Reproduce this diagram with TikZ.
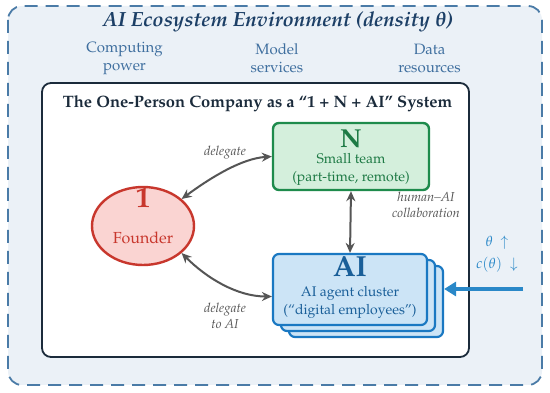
\documentclass[tikz,border=0pt]{standalone}
\usepackage[T1]{fontenc}
\usepackage{mathpazo}
\usepackage{tikz}
\usetikzlibrary{arrows.meta,calc,shapes.geometric}
\definecolor{envfill}{HTML}{EBF1F7}
\definecolor{envdash}{HTML}{4A7BA7}
\definecolor{envtitle}{HTML}{1C3F66}
\definecolor{envlabel}{HTML}{3F6F9F}
\definecolor{innerborder}{HTML}{1B2B3B}
\definecolor{fndfill}{HTML}{FAD4D2}
\definecolor{fndline}{HTML}{C8372D}
\definecolor{nfill}{HTML}{D4EFDC}
\definecolor{nline}{HTML}{1E8B4C}
\definecolor{ntext}{HTML}{1E7A45}
\definecolor{aifill}{HTML}{CCE4F6}
\definecolor{ailine}{HTML}{1A78C2}
\definecolor{aitext}{HTML}{1A5F99}
\definecolor{arrgray}{HTML}{555555}
\definecolor{thetablue}{HTML}{2A88C8}
\tikzset{
  envbox/.style={draw=envdash, fill=envfill, line width=1.8pt, rounded corners=14pt, dash pattern=on 13pt off 8pt},
  innerbox/.style={draw=innerborder, fill=white, line width=1.8pt, rounded corners=9pt},
  envlab/.style={text=envlabel, font=\fontsize{15}{18}\selectfont, align=center},
  fndshape/.style={ellipse, draw=fndline, fill=fndfill, line width=2.4pt, minimum width=102pt, minimum height=78pt},
  nshape/.style={draw=nline, fill=nfill, line width=2.4pt, rounded corners=6pt, minimum width=156pt, minimum height=67pt},
  aishape/.style={draw=ailine, fill=aifill, line width=2.2pt, rounded corners=6pt, minimum width=154pt, minimum height=71pt},
  biglab/.style={font=\fontsize{29}{30}\selectfont\bfseries},
  boxtext/.style={font=\fontsize{14}{18}\selectfont, align=center},
  duo/.style={draw=arrgray, line width=2pt, {Stealth[length=10pt,width=9pt]}-{Stealth[length=10pt,width=9pt]}},
  edgelab/.style={text=arrgray, font=\fontsize{13}{16}\selectfont\itshape, align=center},
}
\begin{document}
\begin{tikzpicture}[x=1pt,y=-1pt]
\useasboundingbox (0,0) rectangle (550,393);
\fill[white] (0,0) rectangle (550,393);
% environment
\draw[envbox] (8,6) rectangle (542,385);
\node[text=envtitle, font=\fontsize{20.5}{22}\selectfont\bfseries\itshape] (envt) at (278,22) {AI Ecosystem Environment (density {\boldmath$\theta$})};
\node[envlab] (comp) at (124.5,58) {Computing\\power};
\node[envlab] (model) at (277,58) {Model\\services};
\node[envlab] (data) at (429.5,58) {Data\\resources};
% inner company box
\draw[innerbox] (42,83) rectangle (469,357);
\node[font=\fontsize{16.5}{18}\selectfont\bfseries, text=innerborder] (ctitle) at (257.5,104) {The One-Person Company as a ``1 + N + AI'' System};
% founder
\node[fndshape] (founder) at (143,226) {};
\node[biglab, text=fndline] (one) at (143,198) {1};
\node[boxtext, text=fndline, font=\fontsize{16}{18}\selectfont] (fndtxt) at (143,238) {Founder};
% N
\node[nshape] (n) at (351,156.5) {};
\node[biglab, text=ntext, font=\fontsize{26}{28}\selectfont\bfseries] (ntitle) at (351,139) {N};
\node[boxtext, text=ntext] (ntxt) at (351,169) {Small team\\(part-time, remote)};
% AI stack
\node[aishape] (ai3) at (366,301.5) {};
\node[aishape] (ai2) at (358,295.5) {};
\node[aishape] (ai) at (350,289.5) {};
\node[biglab, text=aitext] (aititle) at (350,267) {AI};
\node[boxtext, text=aitext] (aitxt) at (350,302) {AI agent cluster\\(``digital employees'')};
% connectors
\draw[duo] (founder.35) .. controls +(30,-22) and +(-30,2) .. (n.west);
\draw[duo] (founder.-35) .. controls +(25,25) and +(-35,0) .. ([yshift=-7pt]ai.west);
\draw[duo] (n.south) -- (ai.north);
\node[edgelab] (l1) at (225,153) {delegate};
\node[edgelab] (l2) at (225,316) {delegate\\to AI};
\node[edgelab] (l3) at (426,205) {human--AI\\collaboration};
% density input
\node[text=thetablue, font=\fontsize{14.5}{22}\selectfont, align=center] (theta) at (497,254) {$\theta\ \uparrow$\\$c(\theta)\ \downarrow$};
\coordinate (src) at (523,289);
\draw[draw=thetablue, line width=3.2pt, -{Triangle[length=12pt,width=14pt]}] (src) -- (src -| ai3.east);
\end{tikzpicture}
\end{document}
